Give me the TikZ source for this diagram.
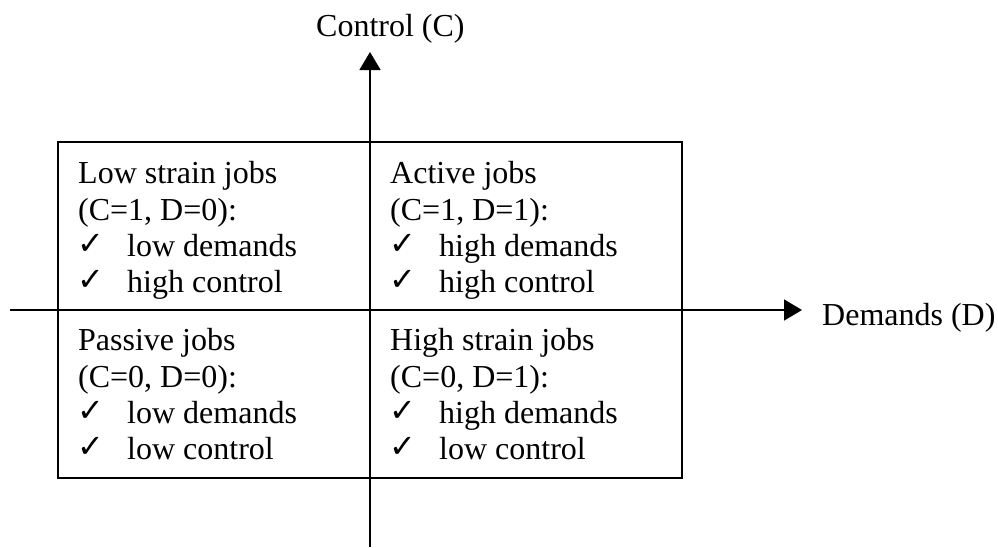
\documentclass[tikz,border=0pt]{standalone}
\usepackage{fontspec}
\setmainfont{Liberation Serif}
\newfontfamily\chkfont{DejaVu Sans}
\usetikzlibrary{arrows.meta}
\begin{document}
\begin{tikzpicture}[x=1pt,y=-1pt,
  txt/.style={anchor=base west,inner sep=0pt,font=\fontsize{32}{36}\selectfont},
  chk/.style={anchor=base west,inner sep=0pt,font=\chkfont\bfseries\fontsize{32}{34}\selectfont},
  axis/.style={line width=1.6pt,-{Triangle[length=18pt,width=21pt]}},
  frame/.style={line width=1.6pt}]
\useasboundingbox (0,0) rectangle (998,547);
% frame
\coordinate (tl) at (58,142);
\coordinate (br) at (682,478);
\draw[frame] (tl) rectangle (br);
% axes
\coordinate (vs) at (370,547);
\coordinate (ve) at (370,52);
\coordinate (hs) at (10,310);
\coordinate (he) at (802,310);
\draw[axis] (vs) -- (ve);
\draw[axis] (hs) -- (he);
\node[txt] (lc) at (316,36) {Control (C)};
\node[txt] (ld) at (822,325) {Demands (D)};
% quadrant top-left
\node[txt] (a1) at (78,183) {Low strain jobs};
\node[txt] (a2) at (78,220) {(C=1, D=0):};
\node[chk] (a3c) at (77,254) {✓};
\node[txt] (a3) at (127,256) {low demands};
\node[chk] (a4c) at (77,290) {✓};
\node[txt] (a4) at (127,292) {high control};
% top-right
\node[txt] (b1) at (390,183) {Active jobs};
\node[txt] (b2) at (390,220) {(C=1, D=1):};
\node[chk] (b3c) at (389,254) {✓};
\node[txt] (b3) at (439,256) {high demands};
\node[chk] (b4c) at (389,290) {✓};
\node[txt] (b4) at (439,292) {high control};
% bottom-left
\node[txt] (c1) at (78,350) {Passive jobs};
\node[txt] (c2) at (78,387) {(C=0, D=0):};
\node[chk] (c3c) at (77,421) {✓};
\node[txt] (c3) at (127,423) {low demands};
\node[chk] (c4c) at (77,457) {✓};
\node[txt] (c4) at (127,459) {low control};
% bottom-right
\node[txt] (d1) at (390,350) {High strain jobs};
\node[txt] (d2) at (390,387) {(C=0, D=1):};
\node[chk] (d3c) at (389,421) {✓};
\node[txt] (d3) at (439,423) {high demands};
\node[chk] (d4c) at (389,457) {✓};
\node[txt] (d4) at (439,459) {low control};
\end{tikzpicture}
\end{document}
